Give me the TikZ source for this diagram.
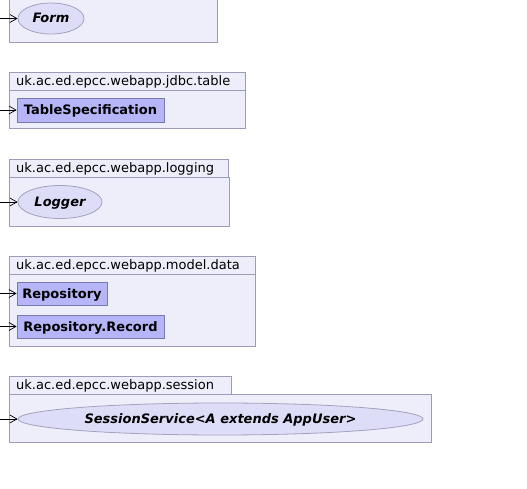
\documentclass[tikz,border=0pt]{standalone}
\usepackage{fontspec}
\setmainfont{DejaVu Sans}
\usetikzlibrary{arrows.meta,shapes.geometric}
\definecolor{pkgfill}{HTML}{EEEEFB}
\definecolor{pkgline}{HTML}{9C9CB8}
\definecolor{clsfill}{HTML}{B5B5F8}
\definecolor{clsline}{HTML}{7A7AAE}
\definecolor{iffill}{HTML}{DDDDF8}
\definecolor{ifline}{HTML}{A2A2BE}
\tikzset{
  pkgbox/.style={draw=pkgline, fill=pkgfill, line width=0.8pt},
  pkgtab/.style={draw=pkgline, fill=pkgfill, line width=0.8pt},
  pkglabel/.style={anchor=base west, inner sep=0pt, font=\fontsize{13}{15}\selectfont},
  clsbox/.style={draw=clsline, fill=clsfill, line width=0.8pt, inner sep=0pt,
    text height=9.5pt, text depth=0.5pt,
    font=\fontsize{13}{15}\selectfont\bfseries},
  ifnode/.style={draw=ifline, fill=iffill, line width=0.8pt, ellipse, inner sep=0pt,
    text height=9.5pt, text depth=0.5pt,
    font=\fontsize{13}{15}\selectfont\bfseries\itshape},
  dep/.style={-{Straight Barb[length=7pt,width=8pt]}, line width=0.7pt, black},
}
\begin{document}
\begin{tikzpicture}[x=1pt,y=-1pt]
\useasboundingbox (0,0) rectangle (527,489);
\fill[white] (0,0) rectangle (527,489);

% package holding Form (top cut off)
\draw[pkgbox] (9,-5) rectangle (217,42);
\node[ifnode, minimum width=66pt, minimum height=31pt] (form) at (51,18.5) {Form};
\coordinate (s1) at (0,18.5);
\draw[dep] (s1) -- (form.west);

% uk.ac.ed.epcc.webapp.jdbc.table
\draw[pkgtab] (9,72) rectangle (245,90);
\draw[pkgbox] (9,90) rectangle (245,128);
\node[pkglabel] (l2) at (16,85.5) {uk.ac.ed.epcc.webapp.jdbc.table};
\node[clsbox, minimum width=147pt, minimum height=24pt] (tspec) at (90.5,110) {TableSpecification};
\coordinate (s2) at (0,110);
\draw[dep] (s2) -- (tspec.west);

% uk.ac.ed.epcc.webapp.logging
\draw[pkgtab] (9,159) rectangle (228,177);
\draw[pkgbox] (9,177) rectangle (229,226);
\node[pkglabel] (l3) at (16,172.5) {uk.ac.ed.epcc.webapp.logging};
\node[ifnode, minimum width=84pt, minimum height=33pt] (logger) at (60,202) {Logger};
\coordinate (s3) at (0,202);
\draw[dep] (s3) -- (logger.west);

% uk.ac.ed.epcc.webapp.model.data
\draw[pkgtab] (9,256) rectangle (255,274);
\draw[pkgbox] (9,274) rectangle (255,346);
\node[pkglabel] (l4) at (16,269.5) {uk.ac.ed.epcc.webapp.model.data};
\node[clsbox, minimum width=90pt, minimum height=23pt] (repo) at (62,293.5) {Repository};
\node[clsbox, minimum width=147pt, minimum height=23pt] (rec) at (90.5,326.5) {Repository.Record};
\coordinate (s4) at (0,293.5);
\coordinate (s5) at (0,326.5);
\draw[dep] (s4) -- (repo.west);
\draw[dep] (s5) -- (rec.west);

% uk.ac.ed.epcc.webapp.session
\draw[pkgtab] (9,376) rectangle (231,394);
\draw[pkgbox] (9,394) rectangle (431,442);
\node[pkglabel] (l5) at (16,389.5) {uk.ac.ed.epcc.webapp.session};
\node[ifnode, minimum width=405pt, minimum height=32pt] (sess) at (220.5,419) {SessionService<A extends AppUser>};
\coordinate (s6) at (0,419);
\draw[dep] (s6) -- (sess.west);
\end{tikzpicture}
\end{document}
